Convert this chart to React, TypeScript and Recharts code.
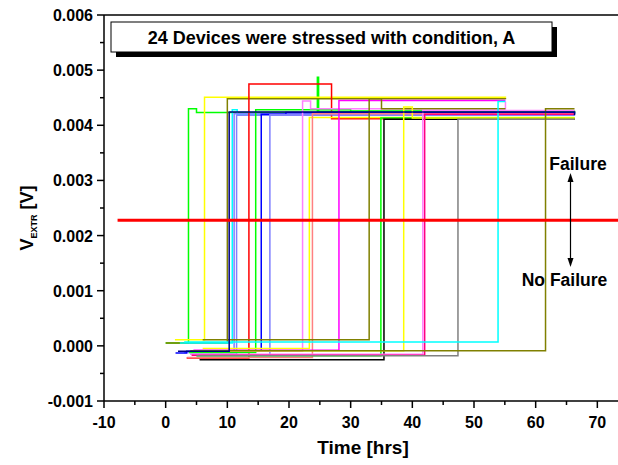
import React from "react";
import { LineChart, Line, XAxis, YAxis, ReferenceLine } from "recharts";

// time [hrs], V_EXTR [V] step points for each stressed device
const traces: [number, number][][] = [
  [[0, 0.00005], [3.7, 0.0043], [5.0, 0.00423], [24.6, 0.00487], [24.8, 0.00425], [66.3, 0.00422]],
  [[1.5, 0.00011], [6.3, 0.00451], [55.1, 0.0045]],
  [[0, 0.00005], [10, 0.00448], [55.1, 0.00447]],
  [[2.3, 0.00005], [10.8, 0.00428], [11.6, 0.0042], [66.3, 0.0042]],
  [[3, -0.00012], [11.1, 0.00421], [66.3, 0.00421]],
  [[4, -0.00015], [11.5, 0.00418], [66.3, 0.00418]],
  [[3.4, -0.00022], [13.5, 0.00475], [26.9, 0.00412], [66.3, 0.00412]],
  [[3.8, -0.00012], [14.6, 0.00428], [30, 0.00426], [66.3, 0.00426]],
  [[1.6, -0.00013], [3.4, -0.0001], [15.5, 0.0042], [19.5, 0.00423], [66.3, 0.0042]],
  [[5, -0.00017], [16.9, 0.00419], [66.3, 0.00419]],
  [[5.5, -0.0001], [22.2, 0.00444], [23.5, 0.0043], [55.1, 0.00443]],
  [[6, -0.00005], [23.3, 0.00414], [66.3, 0.00414]],
  [[3.5, -0.00021], [23.8, 0.00421], [66.3, 0.00421]],
  [[4.5, -0.00008], [28.1, 0.00445], [55.1, 0.00445]],
  [[6, 0.00011], [33, 0.00448], [35, 0.0043], [55.1, 0.0043]],
  [[5, -0.00018], [34.9, 0.00413], [66.3, 0.00413]],
  [[5.5, -0.00025], [35.4, 0.00411], [66.3, 0.00411]],
  [[5, -0.00009], [38.6, 0.00433], [40, 0.00413], [66.3, 0.00413]],
  [[4, -0.00015], [41.7, 0.00427], [66.3, 0.00427]],
  [[4.2, -0.00017], [42, 0.0042], [66.3, 0.0042]],
  [[5, -0.00018], [47.4, 0.00411], [66.3, 0.00411]],
  [[3, 0.00007], [53.9, 0.00443], [55.1, 0.00443]],
  [[4, -0.00009], [61.6, 0.0043], [66.3, 0.0043]],
  [[2, -0.0001], [10.3, 0.00424], [35, 0.00424], [66.3, 0.00418]],
];

const traceColors = [
  "#00FF00", "#FFFF00", "#808000", "#00FFFF", "#8080FF", "#8080FF",
  "#FF0000", "#00FF00", "#0000FF", "#8080FF", "#FF80FF", "#FFFF00",
  "#FF8080", "#FF00FF", "#808000", "#00FF00", "#000000", "#FFFF00",
  "#FF80FF", "#FF0080", "#808080", "#00FFFF", "#808000", "#000080",
];

const threshold = 0.00228;
const thresholdStart = -7.8;

const xTicks = [-10, -5, 0, 5, 10, 15, 20, 25, 30, 35, 40, 45, 50, 55, 60, 65, 70];
const yTicks = [-0.001, -0.0005, 0, 0.0005, 0.001, 0.0015, 0.002, 0.0025, 0.003, 0.0035, 0.004, 0.0045, 0.005, 0.0055, 0.006];

const font = "'Liberation Sans', Arial, sans-serif";

function XTick(props: any) {
  const { x, y, payload } = props;
  const major = payload.value % 10 === 0;
  return (
    <g>
      <line x1={x} x2={x} y1={y} y2={y + (major ? 7 : 4)} stroke="#000" strokeWidth={1.5} />
      {major && (
        <text x={x} y={y + 27} textAnchor="middle" fontFamily={font} fontWeight="bold" fontSize={16} fill="#000">
          {payload.value}
        </text>
      )}
    </g>
  );
}

function YTick(props: any) {
  const { x, y, payload } = props;
  const v = payload.value * 1000;
  const major = Math.abs(v - Math.round(v)) < 1e-6;
  return (
    <g>
      <line x1={x} x2={x - (major ? 7 : 4)} y1={y} y2={y} stroke="#000" strokeWidth={1.5} />
      {major && (
        <text x={x - 11} y={y + 6} textAnchor="end" fontFamily={font} fontWeight="bold" fontSize={16} fill="#000">
          {payload.value.toFixed(3)}
        </text>
      )}
    </g>
  );
}

export default function App() {
  return (
    <div style={{ position: "absolute", left: 0, top: 0, width: 618, height: 465, overflow: "hidden", background: "#fff" }}>
      <LineChart width={630} height={465} margin={{ top: 15, right: 8, bottom: 0, left: 0 }}>
        <XAxis
          dataKey="t"
          type="number"
          domain={[-10, 74]}
          ticks={xTicks}
          tick={<XTick />}
          tickLine={false}
          tickSize={0}
          tickMargin={0}
          axisLine={{ stroke: "#000", strokeWidth: 1.5 }}
          height={64}
          allowDataOverflow
          interval={0}
        />
        <YAxis
          type="number"
          domain={[-0.001, 0.006]}
          ticks={yTicks}
          tick={<YTick />}
          tickLine={false}
          tickSize={0}
          tickMargin={0}
          axisLine={{ stroke: "#000", strokeWidth: 1.5 }}
          width={104}
          allowDataOverflow
          interval={0}
        />
        <ReferenceLine y={0.006} stroke="#000" strokeWidth={1.5} />
        {traces.map((pts, i) => (
          <Line
            key={i}
            data={pts.map(([t, v]) => ({ t, v }))}
            dataKey="v"
            type="stepAfter"
            stroke={traceColors[i]}
            strokeWidth={1.5}
            dot={false}
            isAnimationActive={false}
          />
        ))}
        <ReferenceLine
          segment={[{ x: thresholdStart, y: threshold }, { x: 74, y: threshold }]}
          stroke="#FF0000"
          strokeWidth={3}
        />
      </LineChart>
      <svg width={618} height={465} style={{ position: "absolute", left: 0, top: 0, pointerEvents: "none" }}>
        <text x={363} y={454} textAnchor="middle" fontFamily={font} fontWeight="bold" fontSize={19}>
          Time [hrs]
        </text>
        <text transform="translate(33,218) rotate(-90)" textAnchor="middle" fontFamily={font} fontWeight="bold" fontSize={18}>
          V<tspan fontSize={9} dy={4}>EXTR</tspan>
          <tspan dy={-4}> [V]</tspan>
        </text>
        <rect x={116} y={27} width={441} height={30} fill="#000" />
        <rect x={111} y={22} width={441} height={30} fill="#fff" stroke="#000" strokeWidth={1} />
        <text x={331.5} y={44} textAnchor="middle" fontFamily={font} fontWeight="bold" fontSize={18}>
          24 Devices were stressed with condition, A
        </text>
        <text x={578} y={170} textAnchor="middle" fontFamily={font} fontWeight="bold" fontSize={17.5}>
          Failure
        </text>
        <text x={564.5} y={286} textAnchor="middle" fontFamily={font} fontWeight="bold" fontSize={17.5}>
          No Failure
        </text>
        <line x1={570.5} x2={570.5} y1={180} y2={260} stroke="#000" strokeWidth={1.2} />
        <polygon points="570.5,173 567.5,182 573.5,182" fill="#000" />
        <polygon points="570.5,267 567.5,258 573.5,258" fill="#000" />
      </svg>
    </div>
  );
}
